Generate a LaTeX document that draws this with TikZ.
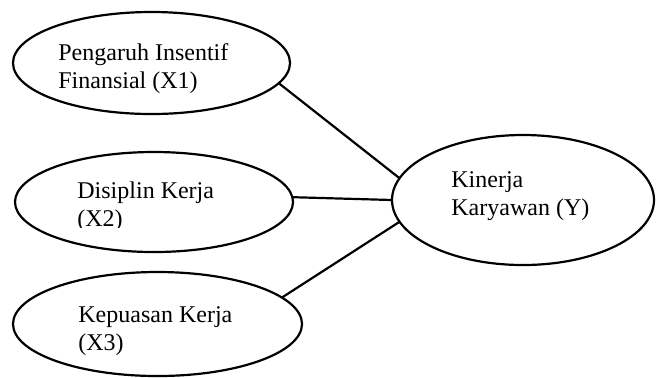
\documentclass[tikz,border=0pt]{standalone}
\usepackage{fontspec}
\setmainfont{Liberation Serif}
\usetikzlibrary{shapes.geometric}
\begin{document}
\begin{tikzpicture}[x=0.5pt,y=-0.5pt,
  oval/.style={draw, ellipse, line width=1.1pt, inner sep=0pt, outer sep=0pt},
  lbl/.style={anchor=base west, inner sep=0pt, font=\fontsize{12}{14.2}\selectfont},
  link/.style={line width=1.1pt}]
\useasboundingbox (0,0) rectangle (656,377);
\node[oval, minimum width=138.5pt, minimum height=51pt] (e1) at (151.5,63) {};
\node[oval, minimum width=139pt, minimum height=50pt] (e2) at (154,202) {};
\node[oval, minimum width=144.5pt, minimum height=52pt] (e3) at (157.5,324) {};
\node[oval, minimum width=131pt, minimum height=65pt] (e4) at (523,200) {};
\node[lbl] (t1) at (58,60) {\begin{tabular}[t]{@{}l@{}}Pengaruh Insentif\\Finansial (X1)\end{tabular}};
\begin{scope}
\clip (0,0) rectangle (656,227);
\node[lbl] (t2) at (77,198) {\begin{tabular}[t]{@{}l@{}}Disiplin Kerja\\(X2)\end{tabular}};
\end{scope}
\node[lbl] (t3) at (78,322) {\begin{tabular}[t]{@{}l@{}}Kepuasan Kerja\\(X3)\end{tabular}};
\node[lbl] (t4) at (451,187.5) {\begin{tabular}[t]{@{}l@{}}Kinerja\\Karyawan (Y)\end{tabular}};
\draw[link] (e1.-9) -- (e4.170);
\draw[link] (e2.2.5) -- (e4.180);
\draw[link] (e3.12) -- (e4.190);
\end{tikzpicture}
\end{document}
